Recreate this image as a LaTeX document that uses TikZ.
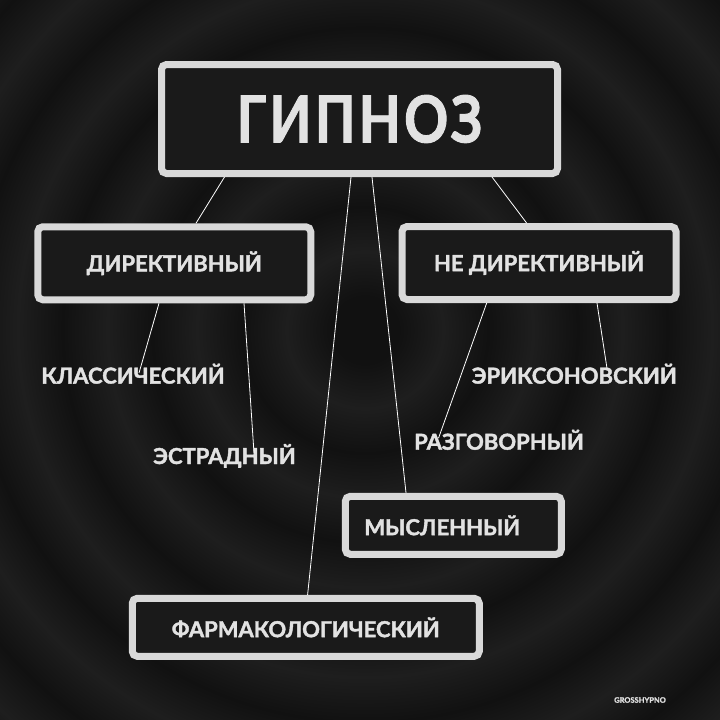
\documentclass[tikz,border=0pt]{standalone}
\usepackage{fontspec}
\setmainfont{Lato}[BoldFeatures={FakeBold=1.8}]
\newfontfamily\headfont{Lato}[BoldFeatures={FakeBold=1.4}, FakeStretch=0.84, LetterSpace=5]
\usetikzlibrary{calc}

\definecolor{bgdark}{HTML}{111111}
\definecolor{bglight}{HTML}{1E1E1E}
\definecolor{boxline}{HTML}{D9D9D9}
\definecolor{boxfill}{HTML}{1A1A1A}
\definecolor{inkgray}{HTML}{E2E2E2}

\pgfdeclareradialshading{rings}{\pgfpoint{0bp}{0bp}}{%
  color(0bp)=(bgdark); color(1.5bp)=(bgdark); color(3.5bp)=(bglight);
  color(5.5bp)=(bgdark); color(7.5bp)=(bglight); color(9.5bp)=(bgdark);
  color(11.5bp)=(bglight); color(13.5bp)=(bgdark); color(15.5bp)=(bglight);
  color(17.5bp)=(bgdark); color(19.5bp)=(bglight); color(21.5bp)=(bgdark);
  color(23.5bp)=(bglight); color(25bp)=(bgdark)}

\begin{document}
\begin{tikzpicture}[
        x=1pt, y=-1pt,
        box/.style={draw=boxline, fill=boxfill, line width=7pt,
            rounded corners=5pt, text=inkgray,
            font=\bfseries\fontsize{22}{22}\selectfont},
        tag/.style={text=inkgray, inner sep=0pt, text height=16pt,
            text depth=0pt, font=\bfseries\fontsize{22}{22}\selectfont},
        link/.style={draw=white, line width=0.8pt},
    ]
    % background
    \useasboundingbox (0,0) rectangle (720,720);
    \clip (0,0) rectangle (720,720);
    \fill[bgdark] (0,0) rectangle (720,720);
    \shade[shading=rings] (365,330) circle (560);

    % boxes
    \node[box, minimum width=396pt, minimum height=109pt,
          font=\headfont\bfseries\fontsize{65}{65}\selectfont] (hyp) at (359.5,119) {ГИПНОЗ};
    \node[box, minimum width=273pt, minimum height=73pt] (dir) at (174.25,263.25) {ДИРЕКТИВНЫЙ};
    \node[box, minimum width=274pt, minimum height=73pt] (ndir) at (539,263) {НЕ ДИРЕКТИВНЫЙ};
    \node[box, minimum width=216pt, minimum height=58pt] (mysl) at (453.3,525.3) {МЫСЛЕННЫЙ\hspace*{22pt}};
    \node[box, minimum width=347pt, minimum height=58pt] (farm) at (305.75,627.3) {ФАРМАКОЛОГИЧЕСКИЙ};

    % free labels
    \node[tag] (klass) at (133,375.6) {КЛАССИЧЕСКИЙ};
    \node[tag] (estr) at (224.5,456) {ЭСТРАДНЫЙ};
    \node[tag] (eriks) at (574.3,375.6) {ЭРИКСОНОВСКИЙ};
    \node[tag] (razg) at (499,441.7) {РАЗГОВОРНЫЙ};
    \node[text=inkgray, font=\bfseries\fontsize{7.5}{7.5}\selectfont] (sign) at (640,700) {GROSSHYPNO};

    % links
    \draw[link] ([xshift=-135pt]hyp.south) -- ([xshift=21.75pt]dir.north);
    \draw[link] ([xshift=-8.5pt]hyp.south) -- ([xshift=1.85pt]farm.north);
    \draw[link] ([xshift=12.5pt]hyp.south) -- ([xshift=-47.3pt]mysl.north);
    \draw[link] ([xshift=132.5pt]hyp.south) -- ([xshift=-12.4pt]ndir.north);
    \draw[link] ([xshift=-15.25pt]dir.south) -- ([xshift=6pt,yshift=-5.6pt]klass.north);
    \draw[link] ([xshift=69.75pt]dir.south) -- ([xshift=29.5pt,yshift=-5pt]estr.north);
    \draw[link] ([xshift=-52.3pt]ndir.south) -- ([xshift=-60.5pt,yshift=-4.7pt]razg.north);
    \draw[link] ([xshift=58pt]ndir.south) -- ([xshift=32.7pt,yshift=-1pt]eriks.north);
\end{tikzpicture}
\end{document}
